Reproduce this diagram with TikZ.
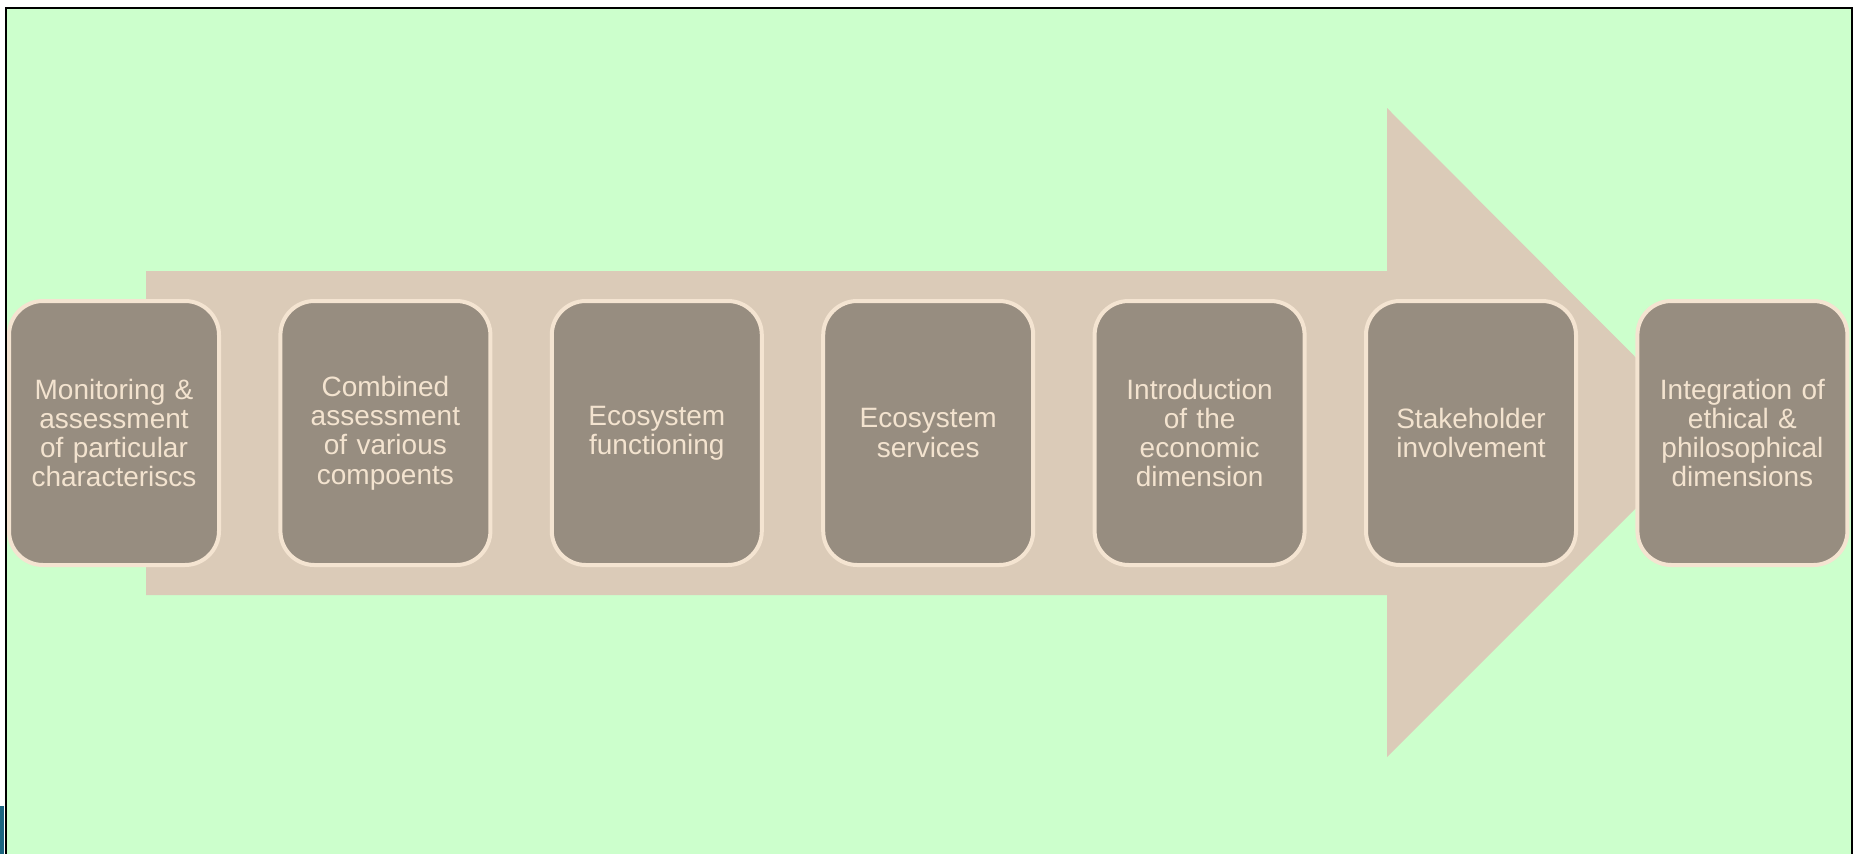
\documentclass[tikz,border=0pt]{standalone}
\usepackage{fontspec}
\setmainfont{Liberation Sans}
\definecolor{bgG}{HTML}{CCFFCC}
\definecolor{arrowC}{HTML}{DBCBB8}
\definecolor{boxF}{HTML}{978D80}
\definecolor{boxB}{HTML}{F4E4D1}
\definecolor{txtC}{HTML}{F3E3CF}
\definecolor{tealC}{HTML}{1A6680}
\tikzset{
  stepbox/.style={draw=boxB, line width=4pt, fill=boxF, rounded corners=34pt,
    minimum width=210pt, minimum height=264pt, inner sep=0pt,
    text=txtC, align=center, text width=200pt,
    font=\fontsize{28}{29.3}\selectfont}
}
\begin{document}
\begin{tikzpicture}[x=1pt,y=-1pt]
\useasboundingbox (0,0) rectangle (1861,854);
\fill[white] (0,0) rectangle (1861,854);
\fill[tealC] (0,806) rectangle (4,854);
\draw[black, line width=2pt, fill=bgG] (6,8) rectangle (1852,870);
% big arrow
\fill[arrowC] (146,271) -- (1387,271) -- (1387,108) -- (1711,433)
  -- (1387,757) -- (1387,595) -- (146,595) -- cycle;
% steps
\node[stepbox] (b1) at (114,433) {Monitoring \&\\assessment\\of particular\\characteriscs};
\node[stepbox] (b2) at (385.4,433) {Combined\\assessment\\of various\\compoents};
\node[stepbox] (b3) at (656.8,433) {Ecosystem\\functioning};
\node[stepbox] (b4) at (928.2,433) {Ecosystem\\services};
\node[stepbox] (b5) at (1199.6,433) {Introduction\\of the\\economic\\dimension};
\node[stepbox] (b6) at (1471,433) {Stakeholder\\involvement};
\node[stepbox] (b7) at (1742.4,433) {Integration of\\ethical \&\\philosophical\\dimensions};
\end{tikzpicture}
\end{document}
